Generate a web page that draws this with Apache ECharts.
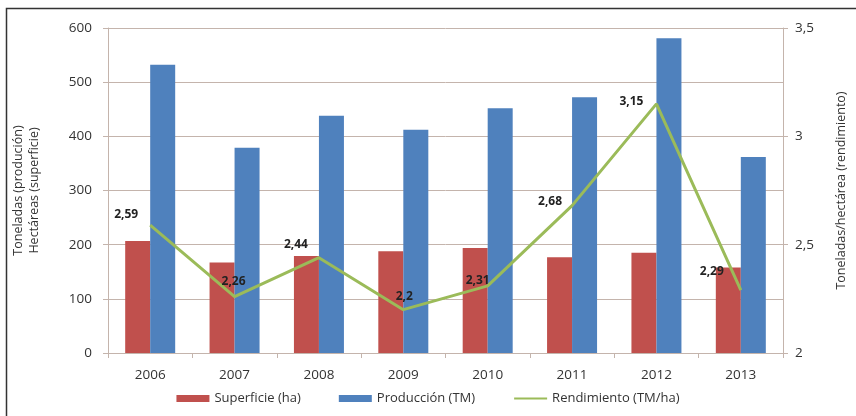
<!DOCTYPE html>
<html>
<head>
<meta charset="utf-8">
<script src="https://cdn.jsdelivr.net/npm/echarts@6/dist/echarts.min.js"></script>
<style>
  html, body { margin: 0; padding: 0; background: #fff; }
  #chart { width: 856px; height: 416px; }
</style>
</head>
<body>
<div id="chart"></div>
<script>
// datos
const years = ['2006', '2007', '2008', '2009', '2010', '2011', '2012', '2013'];
const superficie = [207, 167, 179, 188, 194, 177, 185, 158];
const produccion = [532, 379, 438, 412, 452, 472, 581, 362];
const rendimiento = [2.59, 2.26, 2.44, 2.2, 2.31, 2.68, 3.15, 2.29];

// desplazamiento de etiquetas (estilo, no datos)
const labelOffsets = [[-24, -11], [-1, -15], [-23, -13], [1, -13], [-10, -5], [-22, -4], [-25, -2], [-29, -19]];

const gridColor = '#c4b4ac';
const textColor = '#333';
const fmt = v => String(v).replace('.', ',');

const chart = echarts.init(document.getElementById('chart'));
chart.setOption({
  animation: false,
  textStyle: { fontFamily: 'Open Sans' },
  grid: { left: 108, right: 71, top: 28, bottom: 63 },
  legend: {
    bottom: 6,
    left: 'center',
    itemGap: 38,
    itemWidth: 33,
    itemHeight: 7,
    textStyle: { color: textColor, fontSize: 13 },
    data: [
      { name: 'Superficie (ha)', icon: 'rect' },
      { name: 'Producción (TM)', icon: 'rect' },
      { name: 'Rendimiento (TM/ha)', itemStyle: { opacity: 0 } }
    ]
  },
  xAxis: {
    type: 'category',
    data: years,
    axisLine: { lineStyle: { color: gridColor } },
    axisTick: { show: true, length: 5, lineStyle: { color: gridColor } },
    axisLabel: { color: textColor, fontSize: 13.5, margin: 15 }
  },
  yAxis: [
    {
      type: 'value', min: 0, max: 600, interval: 100,
      name: 'Toneladas (produción)\nHectáreas (superficie)',
      nameLocation: 'middle', nameGap: 66,
      nameTextStyle: { color: textColor, fontSize: 12.5, lineHeight: 16 },
      axisLine: { show: true, lineStyle: { color: gridColor } },
      axisTick: { show: true, length: 5, lineStyle: { color: gridColor } },
      axisLabel: { color: textColor, fontSize: 13.5, margin: 16 },
      splitLine: { lineStyle: { color: gridColor } }
    },
    {
      type: 'value', min: 2, max: 3.5, interval: 0.5,
      name: 'Toneladas/hectárea (rendimiento)',
      nameLocation: 'middle', nameGap: 52, nameRotate: 90,
      nameTextStyle: { color: textColor, fontSize: 12.5 },
      axisLine: { show: true, lineStyle: { color: gridColor } },
      axisTick: { show: true, length: 5, lineStyle: { color: gridColor } },
      axisLabel: { color: textColor, fontSize: 13.5, margin: 12, formatter: fmt },
      splitLine: { show: false }
    }
  ],
  series: [
    {
      name: 'Superficie (ha)', type: 'bar', data: superficie,
      barWidth: 25, barGap: '0%',
      itemStyle: { color: '#c0504d' }
    },
    {
      name: 'Producción (TM)', type: 'bar', data: produccion,
      barWidth: 25, barGap: '0%',
      itemStyle: { color: '#4f81bd' }
    },
    {
      name: 'Rendimiento (TM/ha)', type: 'line', yAxisIndex: 1,
      data: rendimiento.map((v, i) => ({
        value: v,
        label: { offset: labelOffsets[i] }
      })),
      symbol: 'circle', symbolSize: 0,
      lineStyle: { color: '#9bbb59', width: 3 },
      itemStyle: { color: '#9bbb59' },
      label: {
        show: true, position: 'inside',
        color: '#222', fontWeight: 'bold', fontSize: 12,
        formatter: p => fmt(p.value)
      },
      z: 5
    }
  ],
  // marco del recorte original: solo arriba e izquierda
  graphic: [
    {
      type: 'polyline',
      shape: { points: [[856, 8.5], [6.5, 8.5], [6.5, 416]] },
      style: { fill: null, stroke: '#333', lineWidth: 1.5 },
      silent: true
    }
  ]
});
</script>
</body>
</html>
